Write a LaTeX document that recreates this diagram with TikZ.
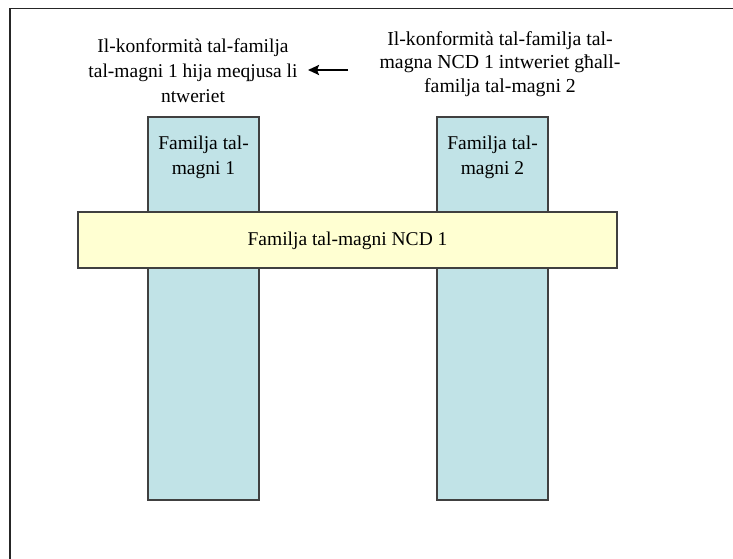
\documentclass[tikz,border=0pt]{standalone}
\usepackage{fontspec}
\setmainfont{Liberation Serif}
\usetikzlibrary{arrows.meta}
\begin{document}
\begin{tikzpicture}[x=1pt,y=-1pt,
  col/.style={draw=black!75, line width=1.2pt, fill=blueA},
  bar/.style={draw=black!75, line width=1.2pt, fill=yellowA},
  lbl/.style={align=center, font=\fontsize{19.5}{25}\selectfont, inner sep=0pt},
]
\definecolor{blueA}{HTML}{C1E3E7}
\definecolor{yellowA}{HTML}{FFFFD2}
\useasboundingbox (0,0) rectangle (733,559);
\draw[line width=1.6pt, black!85] (10,559) -- (10,8.5) -- (733,8.5);
\draw[col] (148,117) rectangle (259,500);
\draw[col] (437,117) rectangle (548,500);
\node[lbl] (c1) at (203.5,157) {Familja tal-\\magni 1};
\node[lbl] (c2) at (492.5,157) {Familja tal-\\magni 2};
\draw[bar] (78,212) rectangle (617,268);
\node[lbl] (ncd) at (347.5,241) {Familja tal-magni NCD 1};
\node[lbl] (t1) at (193,71) {Il-konformità tal-familja\\tal-magni 1 hija meqjusa li\\ntweriet};
\node[lbl, font=\fontsize{19.8}{23.5}\selectfont] (t2) at (500,64) {Il-konformità tal-familja tal-\\magna NCD 1 intweriet għall-\\familja tal-magni 2};
\coordinate (as) at (348,70);
\coordinate (ae) at (308,70);
\draw[-{Stealth[length=11pt,width=10pt,inset=2pt]}, line width=2.6pt] (as) -- (ae);
\end{tikzpicture}
\end{document}
